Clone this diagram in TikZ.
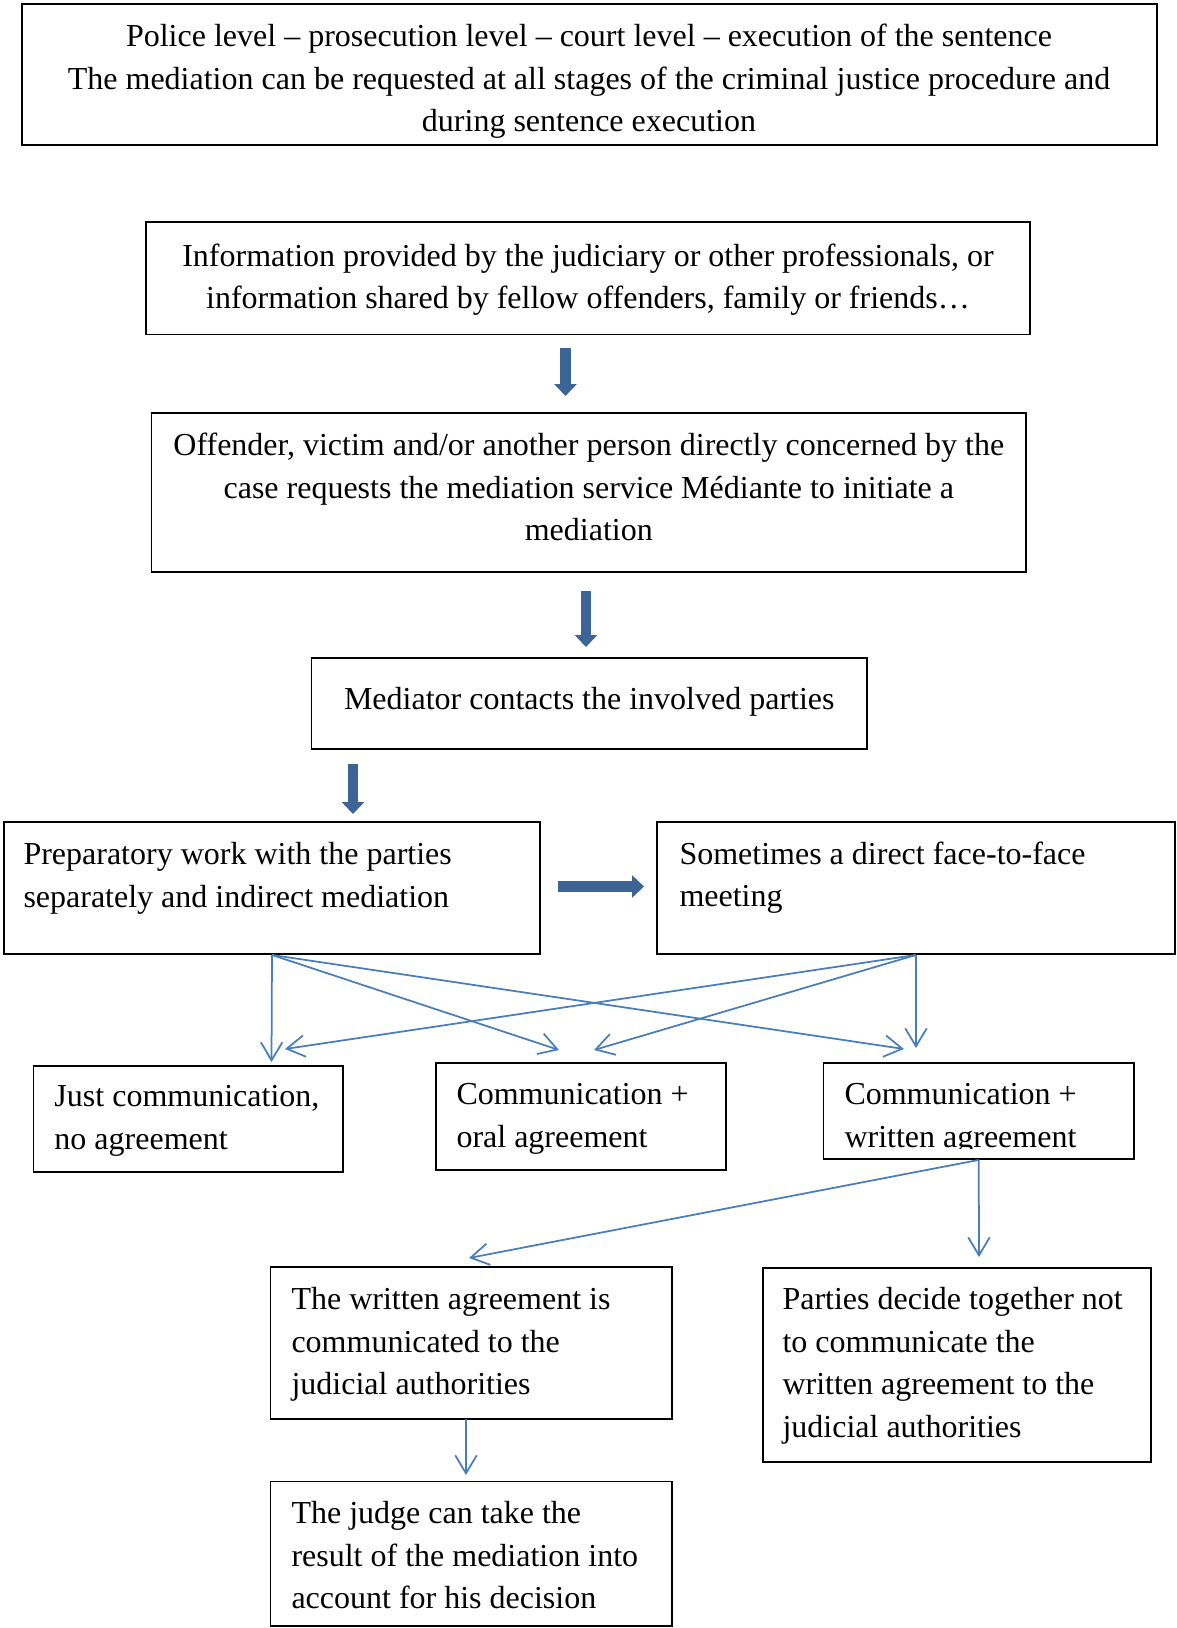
\documentclass[tikz,border=0pt]{standalone}
\usepackage{fontspec}
\setmainfont{Liberation Serif}
\usetikzlibrary{arrows.meta,fit}
\definecolor{thickblue}{HTML}{3C6496}
\definecolor{thinblue}{HTML}{4A7EBB}
\begin{document}
\begin{tikzpicture}[x=0.4pt,y=-0.4pt,
  box/.style={draw=black, line width=0.75pt, inner sep=0pt, rectangle},
  txt/.style={inner sep=0pt, yshift=-4pt, font=\fontsize{12.8}{17}\selectfont, execute at begin node={\rule{0pt}{11.9pt}}},
  ctxt/.style={txt, align=center, anchor=north},
  ltxt/.style={txt, align=left, anchor=north west},
  thinarrow/.style={draw=thinblue, line width=0.7pt, -{Straight Barb[length=7.2pt,width=8.6pt]}},
  fatarrow/.style={draw=thickblue, line width=4.2pt, -{Triangle[length=4.8pt,width=8.8pt]}}]
\useasboundingbox (0,0) rectangle (1177,1628);
% boxes
\path (22,4) coordinate (B1a) (1157,145) coordinate (B1b);
\node[box, fit=(B1a)(B1b)] (B1) {};
\path (146,222) coordinate (B2a) (1030,334.5) coordinate (B2b);
\node[box, fit=(B2a)(B2b)] (B2) {};
\path (151.5,413) coordinate (B3a) (1026,572) coordinate (B3b);
\node[box, fit=(B3a)(B3b)] (B3) {};
\path (311.5,658) coordinate (B4a) (867,749) coordinate (B4b);
\node[box, fit=(B4a)(B4b)] (B4) {};
\path (4,822) coordinate (B5a) (540,954) coordinate (B5b);
\node[box, fit=(B5a)(B5b)] (B5) {};
\path (657,822) coordinate (B6a) (1175,954) coordinate (B6b);
\node[box, fit=(B6a)(B6b)] (B6) {};
\path (33.5,1066) coordinate (B7a) (343,1172) coordinate (B7b);
\node[box, fit=(B7a)(B7b)] (B7) {};
\path (436,1063) coordinate (B8a) (726,1170) coordinate (B8b);
\node[box, fit=(B8a)(B8b)] (B8) {};
\path (823.5,1063) coordinate (B9a) (1134,1159) coordinate (B9b);
\node[box, fit=(B9a)(B9b)] (B9) {};
\path (270.5,1267) coordinate (B10a) (672,1419) coordinate (B10b);
\node[box, fit=(B10a)(B10b)] (B10) {};
\path (270.5,1481.5) coordinate (B11a) (672,1626) coordinate (B11b);
\node[box, fit=(B11a)(B11b)] (B11) {};
\path (763,1268) coordinate (B12a) (1151,1462) coordinate (B12b);
\node[box, fit=(B12a)(B12b)] (B12) {};
% texts
\node[ctxt] (T1) at (589,13.75) {Police level – prosecution level – court level – execution of the sentence\\The mediation can be requested at all stages of the criminal justice procedure and\\during sentence execution};
\node[ctxt] (T2) at (588,233.25) {Information provided by the judiciary or other professionals, or\\information shared by fellow offenders, family or friends…};
\node[ctxt] (T3) at (588.8,422.85) {Offender, victim and/or another person directly concerned by the\\case requests the mediation service Médiante to initiate a\\mediation};
\node[ctxt] (T4) at (589.3,669.65) {Mediator contacts the involved parties};
\node[ltxt] (T5) at (23,832) {Preparatory work with the parties\\separately and indirect mediation};
\node[ltxt] (T6) at (679,831) {Sometimes a direct face-to-face\\meeting};
\node[ltxt] (T7) at (54,1075.25) {Just communication,\\no agreement};
\node[ltxt] (T8) at (456,1073) {Communication +\\oral agreement};
\begin{scope}
\clip (823.5,1063) rectangle (1134,1148);
\node[ltxt] (T9) at (844,1073) {Communication +\\written agreement};
\end{scope}
\node[ltxt] (T10) at (291,1277.25) {The written agreement is\\communicated to the\\judicial authorities};
\node[ltxt] (T11) at (291,1491) {The judge can take the\\result of the mediation into\\account for his decision};
\node[ltxt] (T12) at (782,1277.25) {Parties decide together not\\to communicate the\\written agreement to the\\judicial authorities};
% thick arrows
\coordinate (F1s) at (565.5,348); \coordinate (F1e) at (565.5,396);
\coordinate (F2s) at (586,591);   \coordinate (F2e) at (586,647);
\coordinate (F3s) at (353,764);   \coordinate (F3e) at (353,814);
\coordinate (F4s) at (558,886.5); \coordinate (F4e) at (644,886.5);
\draw[fatarrow] (F1s) -- (F1e);
\draw[fatarrow] (F2s) -- (F2e);
\draw[fatarrow] (F3s) -- (F3e);
\draw[fatarrow] (F4s) -- (F4e);
% thin arrows
\coordinate (t1) at (271.5,1062);
\coordinate (t2) at (559,1050);
\coordinate (t3) at (904,1049);
\coordinate (t4) at (285,1049);
\coordinate (t5) at (594,1050);
\coordinate (t6) at (916,1048);
\coordinate (t7) at (469,1258);
\coordinate (t8) at (979,1257);
\coordinate (t9) at (466,1475);
\coordinate (o10) at (466,1419);
\draw[thinarrow] (B5.south) -- (t1);
\draw[thinarrow] (B5.south) -- (t2);
\draw[thinarrow] (B5.south) -- (t3);
\draw[thinarrow] (B6.south) -- (t4);
\draw[thinarrow] (B6.south) -- (t5);
\draw[thinarrow] (B6.south) -- (t6);
\draw[thinarrow] (B9.south) -- (t7);
\draw[thinarrow] (B9.south) -- (t8);
\draw[thinarrow] (o10) -- (t9);
\end{tikzpicture}
\end{document}
